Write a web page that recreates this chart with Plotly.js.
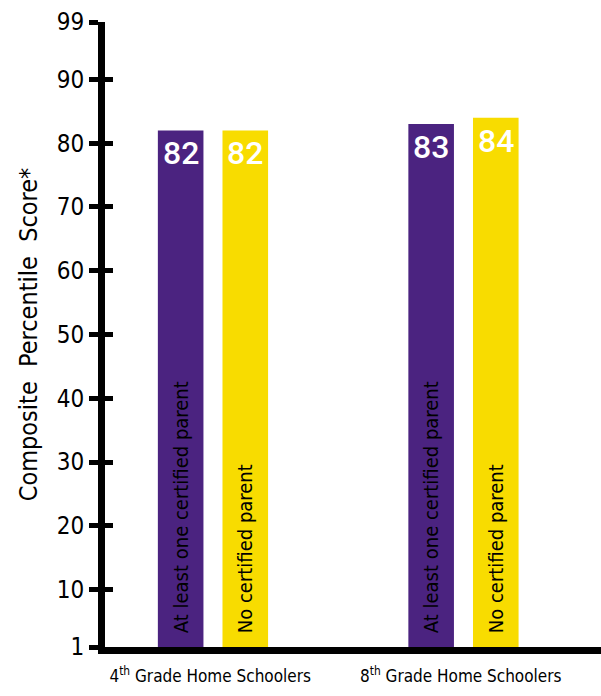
<!DOCTYPE html>
<html>
<head>
<meta charset="utf-8">
<script src="https://cdn.plot.ly/plotly-3.0.1.min.js"></script>
<style>html,body{margin:0;padding:0;background:#fff;}#chart{width:601px;height:696px;}</style>
</head>
<body>
<div id="chart"></div>
<script>
const categories = ["4<sup>th</sup> Grade Home Schoolers", "8<sup>th</sup> Grade Home Schoolers"];
const seriesNames = ["At least one certified parent", "No certified parent"];
const certifiedValues = [82, 83];
const noCertifiedValues = [82, 84];
const yTickVals = [1, 10, 20, 30, 40, 50, 60, 70, 80, 90, 99];
const yTickText = ["1", "10", "20", "30", "40", "50", "60", "70", "80", "90", "99"];

const COND = "'Liberation Sans Narrow', 'DejaVu Sans Condensed', 'DejaVu Sans', sans-serif";
const purple = "#4b2380";
const yellow = "#f8dc00";
const barWidth = 0.182;
const offsets = [-0.209, 0.049];
const colors = [purple, yellow];
const seriesValues = [certifiedValues, noCertifiedValues];
const pad = "\u00a0\u00a0\u00a0";

const traces = seriesValues.map((vals, i) => ({
  type: "bar",
  x: categories,
  y: vals,
  name: seriesNames[i],
  width: barWidth,
  offset: offsets[i],
  marker: {color: colors[i], line: {width: 0}},
  text: categories.map(() => pad + seriesNames[i]),
  textposition: "inside",
  insidetextanchor: "start",
  textangle: -90,
  textfont: {family: COND, size: 20, color: "#000", stretch: "condensed"},
  constraintext: "none",
  hoverinfo: "skip",
  cliponaxis: false
}));

traces.push({type: "scatter", x: [categories[0]], y: [50], yaxis: "y2", mode: "markers", marker: {opacity: 0}, showlegend: false, hoverinfo: "skip"});

const annotations = [];
seriesValues.forEach((vals, i) => {
  vals.forEach((v, j) => {
    annotations.push({
      x: j + offsets[i] + barWidth / 2,
      y: v,
      xref: "x", yref: "y",
      text: String(v),
      showarrow: false,
      yanchor: "top",
      yshift: -2,
      font: {family: "Roboto, 'Open Sans', sans-serif", size: 32, color: "#fff", weight: 500}
    });
  });
});

const layout = {
  width: 601, height: 696,
  margin: {l: 105, r: 0, t: 22, b: 49},
  paper_bgcolor: "#fff", plot_bgcolor: "#fff",
  showlegend: false,
  barmode: "overlay",
  xaxis: {
    type: "category",
    range: [-0.42, 1.56],
    showline: true, linecolor: "#000", linewidth: 7,
    ticks: "", showgrid: false, zeroline: false,
    tickangle: 0,
    tickfont: {family: COND, size: 17, color: "#000", stretch: "condensed"},
    ticklabelstandoff: 8
  },
  yaxis: {
    range: [1, 99],
    tickvals: yTickVals, ticktext: yTickText,
    showline: true, linecolor: "#000", linewidth: 7,
    ticks: "outside", ticklen: 9, tickwidth: 5, tickcolor: "#000",
    showgrid: false, zeroline: false,
    tickfont: {family: COND, size: 24, color: "#000", stretch: "condensed"},
    title: {text: "Composite  Percentile  Score*", font: {family: COND, size: 25, color: "#000", stretch: "condensed"}, standoff: 14}
  },
  yaxis2: {
    range: [1, 99], overlaying: "y", side: "left",
    tickvals: yTickVals, showticklabels: false,
    ticks: "inside", ticklen: 8, tickwidth: 5, tickcolor: "#000",
    showgrid: false, zeroline: false, showline: false
  },
  annotations: annotations
};

Plotly.newPlot("chart", traces, layout, {displayModeBar: false, staticPlot: true});
</script>
</body>
</html>
